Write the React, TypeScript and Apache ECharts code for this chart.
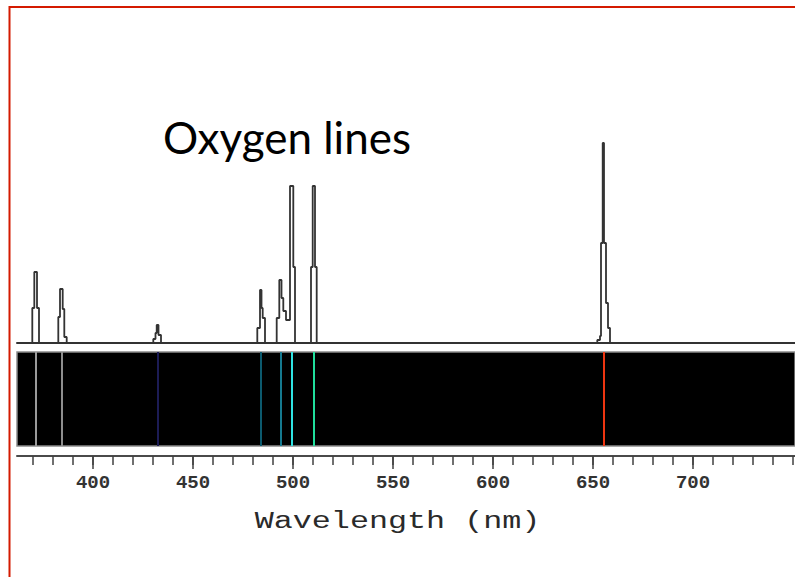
import { useEffect, useRef } from "react";
import * as echarts from "echarts";

// Wavelength window shown (nm)
const X_MIN = 362;
const X_MAX = 751;

// Intensity profile of the oxygen emission lines (nm, relative intensity)
const profileWavelength = [
  362,
  369.65, 370.65, 372, 373,
  382.65, 383.5, 384.85, 385.65, 386.85,
  430.15, 431.25, 431.85, 432.75, 434,
  482.15, 483.5, 484.25, 484.85, 486,
  491.85, 493.15, 494.25, 495.15, 496.5, 498.5, 500.15, 501,
  509, 509.85, 511, 511.85,
  652.15, 653.5, 654, 654.85, 655.5, 656.5, 657.5, 658.5,
  751,
];
const profileIntensity = [
  0,
  17.5, 35.5, 17.5, 0,
  13, 27, 17, 3, 0,
  2, 5, 9, 4, 0,
  7.5, 26.5, 17.5, 12.5, 0,
  12.5, 31.5, 22.5, 16, 11.5, 78.5, 38, 0,
  38, 78.5, 38, 0,
  1.5, 3.5, 50, 100, 50, 20, 7.5, 0,
  0,
];

// Lines in the spectrum strip (nm) and their colours
const emissionWavelength = [371.5, 384.35, 432.5, 483.85, 493.85, 499.35, 510.5, 655.5];
const emissionColor = [
  "#9a9a9a", "#8e8e8e", "#1c1c55", "#0c5a6e",
  "#157a90", "#2fe2e2", "#20de9c", "#ee3510",
];

// Axis ticks (nm)
const minorTicks = [
  370, 380, 390, 400, 410, 420, 430, 440, 450, 460, 470, 480, 490,
  500, 510, 520, 530, 540, 550, 560, 570, 580, 590, 600, 610, 620, 630,
  640, 650, 660, 670, 680, 690, 700, 710, 720, 730, 740, 750,
];
const majorTicks = [400, 450, 500, 550, 600, 650, 700];

const TITLE = "Oxygen lines";
const AXIS_NAME = "Wavelength (nm)";

export default function App() {
  const ref = useRef<HTMLDivElement>(null);

  useEffect(() => {
    if (!ref.current) return;
    const chart = echarts.init(ref.current, undefined, { renderer: "svg" });

    const profile = profileWavelength.map((w, i) => [w, profileIntensity[i]]);
    const plainX = (gridIndex: number) => ({
      type: "value" as const,
      gridIndex,
      min: X_MIN,
      max: X_MAX,
      axisLine: { show: false },
      axisTick: { show: false },
      axisLabel: { show: false },
      splitLine: { show: false },
    });
    const hiddenY = (gridIndex: number, max: number) => ({
      type: "value" as const,
      gridIndex,
      min: 0,
      max,
      show: false,
      splitLine: { show: false },
    });

    chart.setOption({
      animation: false,
      backgroundColor: "#ffffff",
      grid: [
        { left: 17, right: 0, top: 143, height: 200 },
        {
          left: 17, right: 0, top: 352, height: 94,
          show: true, backgroundColor: "#000000",
          borderColor: "#8a8a8a", borderWidth: 1.5,
        },
        { left: 17, right: 0, top: 400, height: 56 },
        { left: 17, right: 0, top: 400, height: 56 },
      ],
      xAxis: [
        {
          ...plainX(0),
          axisLine: { show: true, lineStyle: { color: "#333333", width: 2 } },
        },
        plainX(1),
        {
          ...plainX(2),
          position: "bottom",
          axisLine: { show: true, lineStyle: { color: "#4a4a4a", width: 2 } },
          axisTick: {
            show: true,
            customValues: minorTicks,
            length: 9,
            lineStyle: { color: "#404040", width: 1.5 },
          },
        },
        {
          ...plainX(3),
          position: "bottom",
          axisTick: {
            show: true,
            customValues: majorTicks,
            length: 13,
            lineStyle: { color: "#404040", width: 1.5 },
          },
          axisLabel: {
            show: true,
            customValues: majorTicks,
            formatter: (v: number) => String(v),
            fontFamily: "Liberation Mono",
            fontSize: 19,
            fontWeight: "bold",
            color: "#333333",
            margin: 17,
          },
        },
      ],
      yAxis: [hiddenY(0, 100), hiddenY(1, 1), hiddenY(2, 1), hiddenY(3, 1)],
      series: [
        {
          type: "line",
          xAxisIndex: 0,
          yAxisIndex: 0,
          data: profile,
          step: "end",
          showSymbol: false,
          silent: true,
          lineStyle: { color: "#333333", width: 1.8 },
        },
        {
          type: "line",
          xAxisIndex: 1,
          yAxisIndex: 1,
          data: [[X_MIN, 0]],
          showSymbol: false,
          silent: true,
          lineStyle: { opacity: 0 },
          markLine: {
            silent: true,
            symbol: "none",
            label: { show: false },
            data: emissionWavelength.map((w, i) => ({
              xAxis: w,
              lineStyle: { color: emissionColor[i], width: 2, type: "solid" },
            })),
          },
        },
      ],
      graphic: [
        {
          type: "rect",
          shape: { x: 9.5, y: 7, width: 820, height: 620 },
          style: { fill: "none", stroke: "#d41a00", lineWidth: 2 },
          silent: true,
        },
        {
          type: "text",
          x: 163,
          y: 137,
          style: {
            text: TITLE,
            font: "44px Lato",
            fill: "#000000",
            textAlign: "left",
            textVerticalAlign: "middle",
            align: "left",
            verticalAlign: "middle",
          },
        },
        {
          type: "text",
          x: 397.5,
          y: 522,
          scaleX: 1.38,
          style: {
            text: AXIS_NAME,
            font: "23px 'Liberation Mono'",
            fill: "#2a2a2a",
            textAlign: "center",
            textVerticalAlign: "middle",
            align: "center",
            verticalAlign: "middle",
          },
        },
      ],
    });

    return () => chart.dispose();
  }, []);

  return (
    <div
      ref={ref}
      style={{ position: "absolute", left: 0, top: 0, width: 795, height: 577 }}
    />
  );
}
